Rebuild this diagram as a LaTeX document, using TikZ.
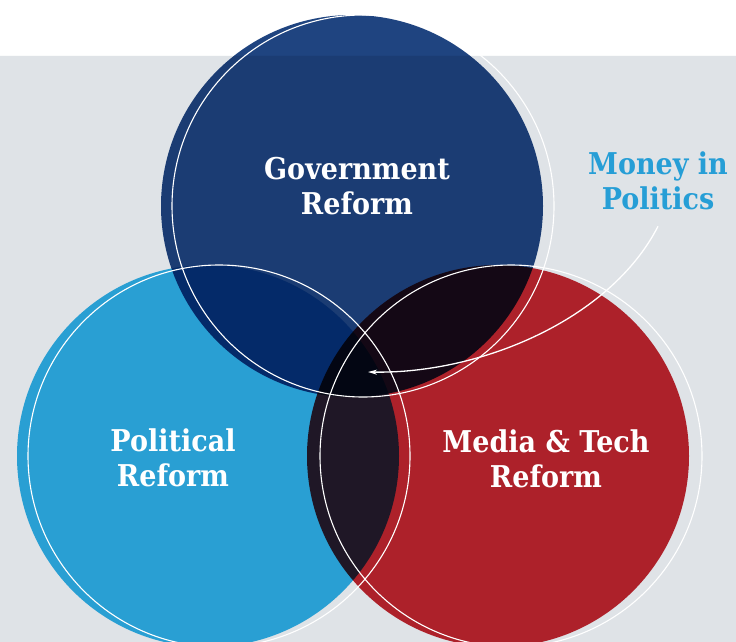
\documentclass[tikz,border=0pt]{standalone}
\usepackage{fontspec}
\setmainfont{DejaVu Serif}[FakeStretch=0.9]
\usepackage{tikz}
\usetikzlibrary{arrows.meta}
\definecolor{bggray}{RGB}{223,227,231}
\definecolor{govblue}{RGB}{31,68,128}
\definecolor{polblue}{RGB}{47,179,233}
\definecolor{medred}{RGB}{198,38,47}
\definecolor{labelblue}{RGB}{38,158,214}

\begin{document}
\begin{tikzpicture}
        [%%%%%%%%%%%%%%%%%%%%%%%%%%%%%%
        x=1pt, y=-1pt,
        rim/.style={draw=white, line width=1.1pt},
        title/.style={text=white, font=\bfseries\fontsize{30}{35}\selectfont, align=center, inner sep=0pt},
        ]%%%%%%%%%%%%%%%%%%%%%%%%%%%%%%
        \useasboundingbox (0,0) rectangle (736,642);
        \begin{scope}[blend group=multiply]
          \fill[white] (0,0) rectangle (736,56);
          \fill[bggray] (0,56) rectangle (736,642);
          \foreach \cx/\cy/\col in {352/206/govblue, 208/456/polblue, 498/456/medred}{
            % Draw the three overlapping disks
            \fill[\col] (\cx,\cy) circle (191);
          }
        \end{scope}
        \foreach \cx/\cy in {363/206, 219/456, 511/456}{
          \draw[rim] (\cx,\cy) circle (191);
        }
        % Text
        \node[title] (gov) at (357,186) {Government\\Reform};
        \node[title] (pol) at (173,458) {Political\\Reform};
        \node[title] (med) at (546,459) {Media \& Tech\\Reform};
        \node[title, text=labelblue] (money) at (658,181) {Money in\\Politics};
        \coordinate (mip) at (368,372);
        \draw[white, line width=1.3pt, -{Stealth[length=9pt,width=5pt]}]
          ([yshift=-16pt]money.south) .. controls (610,320) and (480,374) .. (mip);
      \end{tikzpicture}
\end{document}
